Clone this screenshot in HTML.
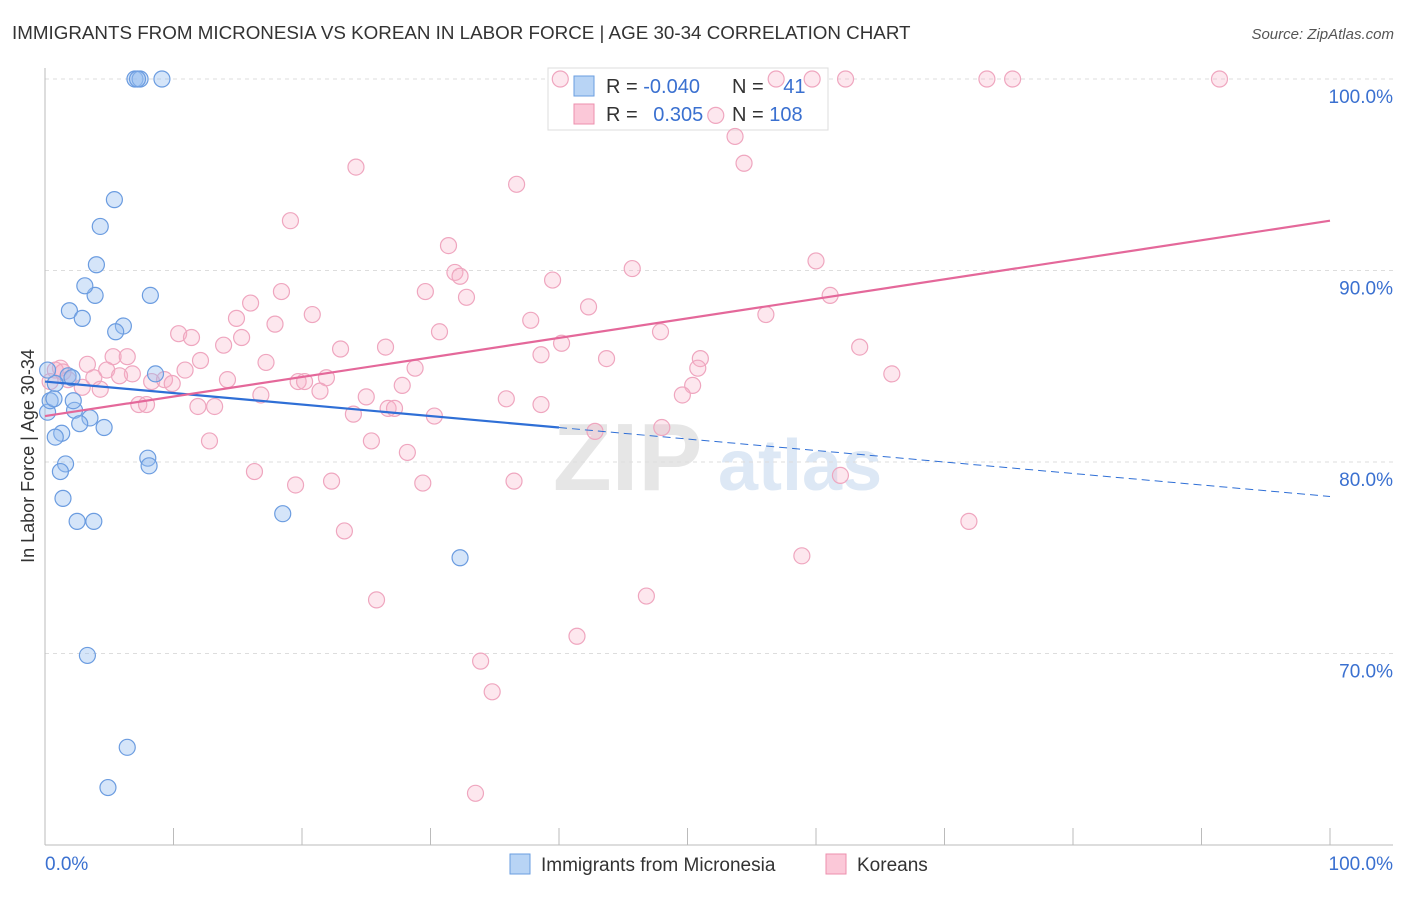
<!DOCTYPE html>
<html><head><meta charset="utf-8"><style>
body{margin:0;background:#fff;font-family:"Liberation Sans",sans-serif}
svg text{font-family:"Liberation Sans",sans-serif}
</style></head><body>
<svg id="chart" width="1406" height="892" xmlns="http://www.w3.org/2000/svg">
<text x="12" y="39" font-size="18.8" fill="#333">IMMIGRANTS FROM MICRONESIA VS KOREAN IN LABOR FORCE | AGE 30-34 CORRELATION CHART</text>
<text x="1394" y="39" font-size="15" fill="#555" font-style="italic" text-anchor="end">Source: ZipAtlas.com</text>
<g>
<text x="553" y="490" font-size="96" fill="#e6e6e6" font-family="Liberation Serif" font-weight="bold">ZIP</text>
<text x="718" y="490" font-size="72" fill="#dde8f5" font-weight="bold">atlas</text>
</g>
<g id="grid"></g>
<g id="axes"></g>
<g>
<rect x="548" y="68" width="280" height="62" fill="#fff" stroke="#ddd"/>
<rect x="574" y="76" width="20" height="20" fill="#b8d4f5" stroke="#6a9ee0"/>
<rect x="574" y="104" width="20" height="20" fill="#fbc8d8" stroke="#ec8fae"/>
<text x="606" y="93" font-size="20" fill="#333">R = <tspan fill="#3a70d0">-0.040</tspan></text>
<text x="732" y="93" font-size="20" fill="#333">N = <tspan fill="#3a70d0" dx="14">41</tspan></text>
<text x="606" y="121" font-size="20" fill="#333">R = <tspan fill="#3a70d0" dx="10">0.305</tspan></text>
<text x="732" y="121" font-size="20" fill="#333">N = <tspan fill="#3a70d0">108</tspan></text>
</g>
<g id="pts"></g>
<g id="lines"></g>
<text transform="translate(34,456) rotate(-90)" font-size="18" fill="#333" text-anchor="middle">In Labor Force | Age 30-34</text>
<g>
<rect x="510" y="854" width="20" height="20" fill="#b8d4f5" stroke="#6a9ee0"/>
<text x="541" y="871" font-size="19" fill="#333">Immigrants from Micronesia</text>
<rect x="826" y="854" width="20" height="20" fill="#fbc8d8" stroke="#ec8fae"/>
<text x="857" y="871" font-size="19" fill="#333">Koreans</text>
</g>
</svg>
<script>
const blueX=[7.0,7.4,9.1,7.2,5.4,4.3,4.0,3.9,3.1,8.2,1.9,2.9,6.1,5.5,8.6,1.8,2.1,0.8,0.2,3.5,2.3,4.6,2.7,1.3,0.8,1.6,1.2,8.0,8.1,1.4,2.5,3.8,18.5,32.3,3.3,6.4,4.9,0.4,0.7,0.2,2.2];
const blueY=[100,100,100,100,93.7,92.3,90.3,88.7,89.2,88.7,87.9,87.5,87.1,86.8,84.6,84.5,84.4,84.1,82.6,82.3,82.7,81.8,82.0,81.5,81.3,79.9,79.5,80.2,79.8,78.1,76.9,76.9,77.3,75.0,69.9,65.1,63.0,83.2,83.3,84.8,83.2];
const pinkX=[40.1,56.9,59.7,62.3,73.3,75.3,91.4,52.2,53.7,54.4,24.2,36.7,19.1,31.4,31.9,32.3,39.5,45.7,60.0,16.0,18.4,32.8,29.6,42.3,37.8,20.8,14.9,17.9,10.4,11.4,30.7,47.9,56.1,61.1,13.9,15.3,23.0,26.5,40.2,38.6,43.7,63.4,51.0,50.8,5.3,6.4,12.1,17.2,28.8,65.9,1.2,3.3,4.8,6.8,5.8,10.9,3.8,1.8,2.9,4.3,8.3,9.3,9.9,14.2,19.7,21.9,20.2,21.4,27.8,16.8,25.0,50.4,49.6,35.9,7.3,7.9,11.9,13.2,26.7,27.2,24.0,30.3,38.6,42.8,48.0,12.8,25.4,28.2,16.3,19.5,22.3,29.4,36.5,61.9,23.3,71.9,58.9,25.8,46.8,41.4,33.9,34.8,33.5,0.8,0.4,1.4];
const pinkY=[100,100,100,100,100,100,100,98.1,97.0,95.6,95.4,94.5,92.6,91.3,89.9,89.7,89.5,90.1,90.5,88.3,88.9,88.6,88.9,88.1,87.4,87.7,87.5,87.2,86.7,86.5,86.8,86.8,87.7,88.7,86.1,86.5,85.9,86.0,86.2,85.6,85.4,86.0,85.4,84.9,85.5,85.5,85.3,85.2,84.9,84.6,84.9,85.1,84.8,84.6,84.5,84.8,84.4,84.3,83.9,83.8,84.2,84.3,84.1,84.3,84.2,84.4,84.2,83.7,84.0,83.5,83.4,84.0,83.5,83.3,83.0,83.0,82.9,82.9,82.8,82.8,82.5,82.4,83.0,81.6,81.8,81.1,81.1,80.5,79.5,78.8,79.0,78.9,79.0,79.3,76.4,76.9,75.1,72.8,73.0,70.9,69.6,68.0,62.7,84.8,84.2,84.7];
const yTicks=[100,90,80,70];
const yTickLabels=["100.0%","90.0%","80.0%","70.0%"];
const blueLine=[84.2,78.2]; // y at x=0 and x=100
const blueSolidEnd=40;
const pinkLine=[82.4,92.6];
const NS="http://www.w3.org/2000/svg";
const X=v=>45+v*12.85, Y=v=>79+(100-v)*19.15;
function mk(p,t,a){const e=document.createElementNS(NS,t);for(const k in a)e.setAttribute(k,a[k]);p.appendChild(e);return e;}
const grid=document.getElementById('grid'),axes=document.getElementById('axes'),pts=document.getElementById('pts'),lines=document.getElementById('lines');
yTicks.forEach((t,i)=>{
 const l=mk(grid,'line',{x1:45,x2:1393,y1:Y(t),y2:Y(t),stroke:'#ddd','stroke-dasharray':'4,4'});
 
 
 const tx=mk(grid,'text',{x:1393,y:Y(t)+24,'font-size':19,fill:'#3a70d0','text-anchor':'end'});
 tx.textContent=yTickLabels[i];
 
 
});
let a=mk(axes,'line',{x1:45,x2:45,y1:68,y2:845,stroke:'#bbb'});

a=mk(axes,'line',{x1:45,x2:1393,y1:845,y2:845,stroke:'#bbb'});

for(let i=0;i<=10;i++){const t=mk(axes,'line',{x1:X(i*10),x2:X(i*10),y1:828,y2:845,stroke:'#bbb'});
 }
let xl=mk(axes,'text',{x:45,y:870,'font-size':19,fill:'#3a70d0'});xl.textContent='0.0%';

xl=mk(axes,'text',{x:1393,y:870,'font-size':19,fill:'#3a70d0','text-anchor':'end'});xl.textContent='100.0%';

pinkX.forEach((x,i)=>{const c=mk(pts,'circle',{cx:X(x),cy:Y(pinkY[i]),r:8,fill:'rgba(248,176,200,0.3)',stroke:'#efa6bf','stroke-width':1.2});
 });
blueX.forEach((x,i)=>{const c=mk(pts,'circle',{cx:X(x),cy:Y(blueY[i]),r:8,fill:'rgba(150,190,240,0.4)',stroke:'#6b9ce0','stroke-width':1.2});
 });
const by=x=>blueLine[0]+(blueLine[1]-blueLine[0])*x/100;
let l=mk(lines,'line',{x1:X(0),y1:Y(by(0)),x2:X(blueSolidEnd),y2:Y(by(blueSolidEnd)),stroke:'#2f6fd6','stroke-width':2.2});

l=mk(lines,'line',{x1:X(blueSolidEnd),y1:Y(by(blueSolidEnd)),x2:X(100),y2:Y(by(100)),stroke:'#2f6fd6','stroke-width':1,'stroke-dasharray':'8,5'});

l=mk(lines,'line',{x1:X(0),y1:Y(pinkLine[0]),x2:X(100),y2:Y(pinkLine[1]),stroke:'#e4689a','stroke-width':2.2});

</script>
</body></html>
